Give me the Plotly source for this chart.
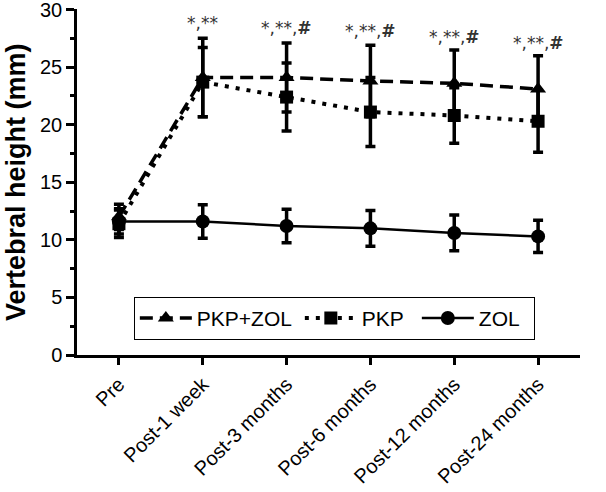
import plotly.graph_objects as go

categories = ["Pre", "Post-1 week", "Post-3 months", "Post-6 months", "Post-12 months", "Post-24 months"]
pkp_zol = [12.0, 24.1, 24.1, 23.8, 23.6, 23.1]
pkp_zol_sd = [1.1, 3.4, 3.0, 3.1, 2.9, 2.9]
pkp = [11.4, 23.7, 22.4, 21.1, 20.8, 20.3]
pkp_sd = [1.2, 3.0, 2.95, 3.0, 2.4, 2.7]
zol = [11.6, 11.6, 11.2, 11.0, 10.6, 10.3]
zol_sd = [1.1, 1.45, 1.45, 1.55, 1.55, 1.4]
annot_text = ["", "*,**", "*,**,<b>#</b>", "*,**,<b>#</b>", "*,**,<b>#</b>", "*,**,<b>#</b>"]
annot_y = [None, 28.8, 28.4, 28.1, 27.6, 27.1]
y_ticks = [0, 5, 10, 15, 20, 25, 30]
y_minor = [2.5, 7.5, 12.5, 17.5, 22.5, 27.5]

FONT = "Liberation Sans, Arial, sans-serif"
x = list(range(len(categories)))

fig = go.Figure()

def add(name, y, sd, dash, symbol, width, msize, lw):
    fig.add_trace(go.Scatter(
        x=x, y=y, name=name, mode="lines+markers", legendwidth=lw,
        line=dict(color="black", width=width, dash=dash),
        marker=dict(symbol=symbol, size=msize, color="black"),
        error_y=dict(type="data", array=sd, visible=True, color="black", thickness=3.5, width=5),
    ))

add("PKP+ZOL", pkp_zol, pkp_zol_sd, "13px,7px", "triangle-up", 3.5, 14, 98)
add("PKP", pkp, pkp_sd, "4px,7px", "square", 4, 13, 50)
add("ZOL", zol, zol_sd, "solid", "circle", 2.5, 14, 50)

for xi, t, ay in zip(x, annot_text, annot_y):
    if t:
        fig.add_annotation(x=xi, y=ay, text=t, showarrow=False,
                           font=dict(family="DejaVu Sans", size=17, color="#333333"))

fig.add_annotation(x=0, y=0.5, xref="paper", yref="paper", xshift=-61,
                   text="<b>Vertebral height (mm)</b>", textangle=-90, showarrow=False,
                   xanchor="center", yanchor="middle",
                   font=dict(family=FONT, size=27, color="black"))

fig.update_layout(
    width=606, height=492,
    margin=dict(l=77, r=26, t=9, b=137),
    paper_bgcolor="white", plot_bgcolor="white",
    font=dict(family=FONT, color="black"),
    showlegend=True,
    legend=dict(orientation="h", x=0.113, y=0.168, xanchor="left", yanchor="top",
                bordercolor="black", borderwidth=1, bgcolor="white",
                font=dict(family=FONT, size=21, color="black"), itemwidth=52),
    xaxis=dict(range=[-0.5, 5.5], tickvals=x, ticktext=categories, tickangle=-45,
               automargin=False,
               showline=True, linecolor="black", linewidth=2.5, ticks="outside",
               ticklen=7, tickwidth=2.5, tickcolor="black", showgrid=False, zeroline=False,
               tickfont=dict(family=FONT, size=20, color="black")),
    yaxis=dict(range=[0, 30.05], tickvals=y_ticks, ticklabeloverflow="allow",
               automargin=False,
               showline=True, linecolor="black", linewidth=2.5, ticks="outside",
               ticklen=8, tickwidth=2.5, tickcolor="black", showgrid=False, zeroline=False,
               minor=dict(tickvals=y_minor, ticks="outside",
                          ticklen=4, tickwidth=2.5, tickcolor="black"),
               tickfont=dict(family=FONT, size=20, color="black")),
)

fig.write_html("out.html", config={"displayModeBar": False},
               post_script="document.body.style.margin='0';")
